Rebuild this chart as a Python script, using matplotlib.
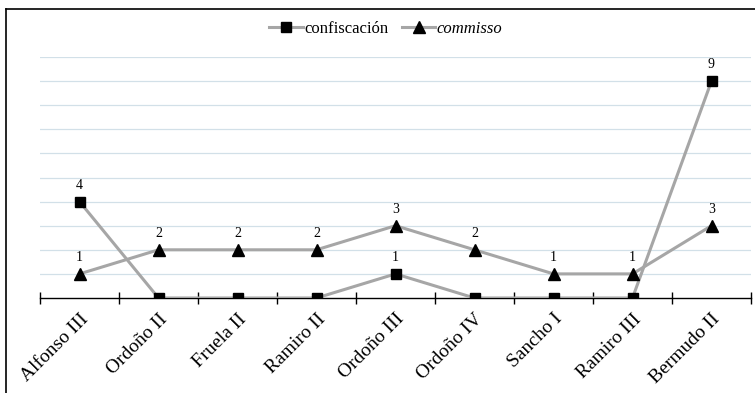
import matplotlib
matplotlib.use("Agg")
import matplotlib.pyplot as plt
from matplotlib.lines import Line2D
import numpy as np

categories = ["Alfonso III", "Ordoño II", "Fruela II", "Ramiro II", "Ordoño III",
              "Ordoño IV", "Sancho I", "Ramiro III", "Bermudo II"]
confiscacion = [4, 0, 0, 0, 1, 0, 0, 0, 9]
commisso = [1, 2, 2, 2, 3, 2, 1, 1, 3]

plt.rcParams['font.family'] = ['Liberation Serif', 'DejaVu Serif']

fig = plt.figure(figsize=(7.55, 3.93), dpi=100)
ax = fig.add_axes([40/755, 95/393, 711/755, 241/393])

x = np.arange(len(categories))
line_col = '#a6a6a6'
ax.plot(x, confiscacion, color=line_col, lw=2.2, marker='s', ms=6.5,
        mfc='black', mec='black', label='confiscación', zorder=3)
ax.plot(x, commisso, color=line_col, lw=2.2, marker='^', ms=8,
        mfc='black', mec='black', label='commisso', zorder=3)

# data labels: only for nonzero values
for xi, v in zip(x, confiscacion):
    if v != 0:
        ax.annotate(str(v), (xi, v), xytext=(0, 7), textcoords='offset points',
                    ha='center', va='bottom', fontsize=10)
for xi, v in zip(x, commisso):
    if v != 0:
        ax.annotate(str(v), (xi, v), xytext=(0, 7), textcoords='offset points',
                    ha='center', va='bottom', fontsize=10)

ax.set_xlim(-0.5, len(categories) - 0.5)
ax.set_ylim(0, 10)
ax.set_yticks(np.arange(1, 11))
ax.yaxis.grid(True, color='#d2e0e8', lw=0.9)
ax.tick_params(axis='y', left=False, labelleft=False)
for s in ['left', 'right', 'top']:
    ax.spines[s].set_visible(False)
ax.spines['bottom'].set_color('black')
ax.spines['bottom'].set_linewidth(1.0)
ax.spines['bottom'].set_zorder(2)

ax.set_xticks(x)
ax.set_xticklabels(categories, rotation=45, ha='right', rotation_mode='anchor', fontsize=14)
ax.tick_params(axis='x', which='major', length=0, pad=9)
ax.set_xticks(np.arange(-0.5, len(categories)), minor=True)
ax.tick_params(axis='x', which='minor', direction='inout', length=9, width=1, color='black')
ax.set_axisbelow(True)

handles = [Line2D([0], [0], color=line_col, lw=2.2, marker='s', ms=6.5, mfc='black', mec='black'),
           Line2D([0], [0], color=line_col, lw=2.2, marker='^', ms=8, mfc='black', mec='black')]
leg = fig.legend(handles, ['confiscación', 'commisso'], loc='center', bbox_to_anchor=(386/755, 1 - 29/393),
                 ncol=2, frameon=False, fontsize=12, handlelength=2.0, handletextpad=0.1,
                 columnspacing=0.8)
leg.get_texts()[1].set_fontstyle('italic')

# outer frame (left and top edges visible)
fig.add_artist(Line2D([6/755, 6/755], [0, 1 - 9/393], transform=fig.transFigure, color='black', lw=1.2))
fig.add_artist(Line2D([6/755, 1], [1 - 9/393, 1 - 9/393], transform=fig.transFigure, color='black', lw=1.2))

fig.savefig("out.png", dpi=100)
